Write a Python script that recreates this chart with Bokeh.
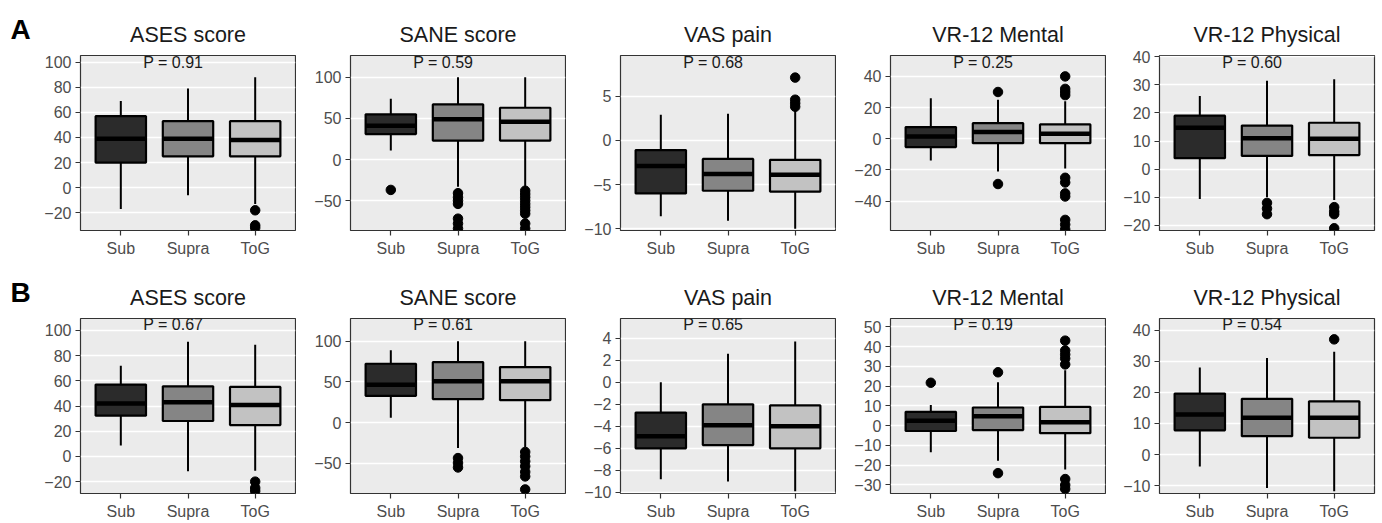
from bokeh.plotting import figure
from bokeh.layouts import row, column
from bokeh.models import Range1d, FixedTicker, Label, ColumnDataSource
from bokeh.embed import file_html
from bokeh.resources import INLINE

groups = ["Sub", "Supra", "ToG"]
group_colors = ["#2B2B2B", "#858585", "#C2C2C2"]
titles = ["ASES score", "SANE score", "VAS pain", "VR-12 Mental", "VR-12 Physical"]
row_letters = ["A", "B"]
pvals_A = ["0.91", "0.59", "0.68", "0.25", "0.60"]
pvals_B = ["0.67", "0.61", "0.65", "0.19", "0.54"]

# ---------------- Row A ----------------
A_ases_lower = [-17, -6, -13]
A_ases_q1 = [20, 25, 25]
A_ases_med = [39, 39, 38]
A_ases_q3 = [57, 53, 53]
A_ases_upper = [69, 79, 88]
A_ases_out = [[], [], [-18, -30, -32]]
A_ases_ylim = [-34.1, 105.3]
A_ases_ticks = [-20, 0, 20, 40, 60, 80, 100]

A_sane_lower = [11, -33, -33]
A_sane_q1 = [31, 23, 23]
A_sane_med = [41, 49, 46]
A_sane_q3 = [55, 67, 63]
A_sane_upper = [74, 100, 100]
A_sane_out = [[-37], [-41, -46, -50, -54, -72, -78, -84],
              [-38, -42, -46, -50, -54, -58, -62, -66, -78, -84]]
A_sane_ylim = [-86.4, 126.6]
A_sane_ticks = [-50, 0, 50, 100]

A_vas_lower = [-8.6, -9.1, -10]
A_vas_q1 = [-6.0, -5.7, -5.8]
A_vas_med = [-2.9, -3.8, -3.9]
A_vas_q3 = [-1.1, -2.1, -2.2]
A_vas_upper = [2.9, 3.0, 3.4]
A_vas_out = [[], [], [3.8, 4.2, 4.6, 7.1]]
A_vas_ylim = [-10.2, 9.6]
A_vas_ticks = [-10, -5, 0, 5]

A_ment_lower = [-14, -21, -19]
A_ment_q1 = [-5.3, -2.8, -2.8]
A_ment_med = [1.5, 4.3, 3.2]
A_ment_q3 = [7.5, 10, 9.2]
A_ment_upper = [26, 25, 24]
A_ment_out = [[], [30, -29], [28, 30, 32, 40, -25, -28, -35, -37, -52, -55, -58]]
A_ment_ylim = [-58.8, 53.4]
A_ment_ticks = [-40, -20, 0, 20, 40]

A_phys_lower = [-10.6, -10, -11]
A_phys_q1 = [3.9, 4.7, 5.0]
A_phys_med = [14.7, 11.0, 10.8]
A_phys_q3 = [19.0, 15.5, 16.5]
A_phys_upper = [26, 31.4, 32]
A_phys_out = [[], [-12, -14, -16], [-13.5, -15, -16, -21]]
A_phys_ylim = [-21.8, 40.4]
A_phys_ticks = [-20, -10, 0, 10, 20, 30, 40]

# ---------------- Row B ----------------
B_ases_lower = [8.7, -11.8, -11.3]
B_ases_q1 = [32.3, 28.1, 24.9]
B_ases_med = [42, 43, 40.7]
B_ases_q3 = [57, 55.6, 55.1]
B_ases_upper = [72, 91, 88.5]
B_ases_out = [[], [], [-20, -25, -27.5]]
B_ases_ylim = [-29.4, 109.4]
B_ases_ticks = [-20, 0, 20, 40, 60, 80, 100]

B_sane_lower = [6, -31, -30]
B_sane_q1 = [33, 29, 27.6]
B_sane_med = [46.7, 50.8, 50.8]
B_sane_q3 = [72.4, 74.4, 68.3]
B_sane_upper = [89, 100, 100]
B_sane_out = [[], [-43.5, -49.5, -55], [-36, -41.5, -47.5, -53.5, -60.5, -66, -82]]
B_sane_ylim = [-87, 128]
B_sane_ticks = [-50, 0, 50, 100]

B_vas_lower = [-8.8, -9.0, -9.9]
B_vas_q1 = [-6.0, -5.7, -6.0]
B_vas_med = [-4.9, -3.9, -4.0]
B_vas_q3 = [-2.75, -2.0, -2.1]
B_vas_upper = [0, 2.6, 3.7]
B_vas_out = [[], [], []]
B_vas_ylim = [-10.1, 5.8]
B_vas_ticks = [-10, -8, -6, -4, -2, 0, 2, 4]

B_ment_lower = [-13.4, -17.7, -22.2]
B_ment_q1 = [-2.7, -2.2, -3.8]
B_ment_med = [2.5, 4.8, 1.7]
B_ment_q3 = [7.0, 9.2, 9.5]
B_ment_upper = [10.4, 22, 28]
B_ment_out = [[21.7], [27, -24], [31, 34, 36, 38, 43, -27, -30, -32]]
B_ment_ylim = [-34.3, 54.2]
B_ment_ticks = [-30, -20, -10, 0, 10, 20, 30, 40, 50]

B_phys_lower = [-3.8, -10.7, -11.8]
B_phys_q1 = [7.8, 5.9, 5.4]
B_phys_med = [12.9, 11.8, 11.8]
B_phys_q3 = [19.6, 17.9, 17.1]
B_phys_upper = [28, 31, 33]
B_phys_out = [[], [], [37]]
B_phys_ylim = [-12.5, 43.7]
B_phys_ticks = [-10, 0, 10, 20, 30, 40]

FONT = "Liberation Sans"
FRAME_W = 215
LETTER_W = 36

rowA = [
    (A_ases_lower, A_ases_q1, A_ases_med, A_ases_q3, A_ases_upper, A_ases_out, A_ases_ylim, A_ases_ticks),
    (A_sane_lower, A_sane_q1, A_sane_med, A_sane_q3, A_sane_upper, A_sane_out, A_sane_ylim, A_sane_ticks),
    (A_vas_lower, A_vas_q1, A_vas_med, A_vas_q3, A_vas_upper, A_vas_out, A_vas_ylim, A_vas_ticks),
    (A_ment_lower, A_ment_q1, A_ment_med, A_ment_q3, A_ment_upper, A_ment_out, A_ment_ylim, A_ment_ticks),
    (A_phys_lower, A_phys_q1, A_phys_med, A_phys_q3, A_phys_upper, A_phys_out, A_phys_ylim, A_phys_ticks),
]
rowB = [
    (B_ases_lower, B_ases_q1, B_ases_med, B_ases_q3, B_ases_upper, B_ases_out, B_ases_ylim, B_ases_ticks),
    (B_sane_lower, B_sane_q1, B_sane_med, B_sane_q3, B_sane_upper, B_sane_out, B_sane_ylim, B_sane_ticks),
    (B_vas_lower, B_vas_q1, B_vas_med, B_vas_q3, B_vas_upper, B_vas_out, B_vas_ylim, B_vas_ticks),
    (B_ment_lower, B_ment_q1, B_ment_med, B_ment_q3, B_ment_upper, B_ment_out, B_ment_ylim, B_ment_ticks),
    (B_phys_lower, B_phys_q1, B_phys_med, B_phys_q3, B_phys_upper, B_phys_out, B_phys_ylim, B_phys_ticks),
]

col_left = [80 - LETTER_W, 54, 54, 54, 53]
col_right = [1, 1, 1, 1, 3]


def make_letter(letter, top_b, frame_h, bot_b, standoff):
    h = top_b + frame_h + bot_b
    p = figure(width=LETTER_W, height=h, output_backend="svg", toolbar_location=None,
               x_axis_type=None, y_axis_type=None,
               x_range=Range1d(0, 1), y_range=Range1d(0, 1),
               min_border_left=0, min_border_right=0,
               min_border_top=top_b, min_border_bottom=bot_b,
               title=letter)
    p.title.align = "left"
    p.title.offset = 10
    p.title.text_font = FONT
    p.title.text_font_size = "28px"
    p.title.text_font_style = "bold"
    p.title.text_color = "black"
    p.title.standoff = standoff
    p.outline_line_color = None
    p.background_fill_color = "white"
    p.border_fill_color = "white"
    p.xgrid.grid_line_color = None
    p.ygrid.grid_line_color = None
    return p


def make_panel(title, ptxt, stats, col, top_b, frame_h, bot_b):
    lower, q1, med, q3, upper, outs, ylim, ticks = stats
    xs = list(range(1, len(groups) + 1))
    w = col_left[col] + FRAME_W + col_right[col]
    h = top_b + frame_h + bot_b
    p = figure(width=w, height=h, output_backend="svg", toolbar_location=None,
               x_range=Range1d(0.4, len(groups) + 0.6),
               y_range=Range1d(ylim[0], ylim[1]),
               min_border_left=col_left[col], min_border_right=col_right[col],
               min_border_top=top_b, min_border_bottom=bot_b,
               title=title)
    p.title.align = "center"
    p.title.text_font = FONT
    p.title.text_font_size = "21.5px"
    p.title.text_font_style = "normal"
    p.title.text_color = "#1A1A1A"
    p.title.standoff = 17

    p.background_fill_color = "#EBEBEB"
    p.border_fill_color = "white"
    p.outline_line_color = "#333333"
    p.outline_line_width = 1.2
    p.xgrid.grid_line_color = None
    p.ygrid.grid_line_color = "white"
    p.ygrid.grid_line_width = 1.6

    for ax in (p.xaxis[0], p.yaxis[0]):
        ax.axis_line_color = None
        ax.major_tick_line_color = "#333333"
        ax.major_tick_line_width = 1.2
        ax.major_tick_out = 5
        ax.major_tick_in = 0
        ax.minor_tick_line_color = None
        ax.major_label_text_font = FONT
        ax.major_label_text_font_size = "16px"
        ax.major_label_text_color = "#4D4D4D"
        ax.major_label_standoff = 4
    p.xaxis.ticker = FixedTicker(ticks=xs)
    p.xaxis.major_label_overrides = {x: g for x, g in zip(xs, groups)}
    p.yaxis.ticker = FixedTicker(ticks=ticks)

    src = ColumnDataSource(dict(x=xs, lower=lower, q1=q1, med=med, q3=q3,
                                upper=upper, color=group_colors))
    p.segment(x0="x", y0="q3", x1="x", y1="upper", source=src,
              line_color="black", line_width=2)
    p.segment(x0="x", y0="lower", x1="x", y1="q1", source=src,
              line_color="black", line_width=2)
    p.vbar(x="x", width=0.75, bottom="q1", top="q3", source=src,
           fill_color="color", line_color="black", line_width=2.2)
    p.rect(x="x", y="med", width=0.75, height=4.5, height_units="screen",
           source=src, fill_color="black", line_color=None)

    ox, oy = [], []
    for x, o in zip(xs, outs):
        ox += [x] * len(o)
        oy += list(o)
    p.scatter(ox, oy, size=9.5, fill_color="black", line_color="black")

    p.add_layout(Label(x=1.78, y=frame_h - 7, x_units="data", y_units="screen",
                       text="P = " + ptxt, text_align="center",
                       text_baseline="middle", text_font=FONT,
                       text_font_size="16px", text_color="#1A1A1A"))
    return p


figsA = [make_letter(row_letters[0], 55, 175, 33, 21)]
figsB = [make_letter(row_letters[1], 55, 176, 28, 21)]
for i in range(5):
    figsA.append(make_panel(titles[i], pvals_A[i], rowA[i], i, 55, 175, 33))
    figsB.append(make_panel(titles[i], pvals_B[i], rowB[i], i, 55, 176, 28))

layout = column(row(*figsA), row(*figsB))
open("out.html", "w").write(file_html(layout, INLINE))
